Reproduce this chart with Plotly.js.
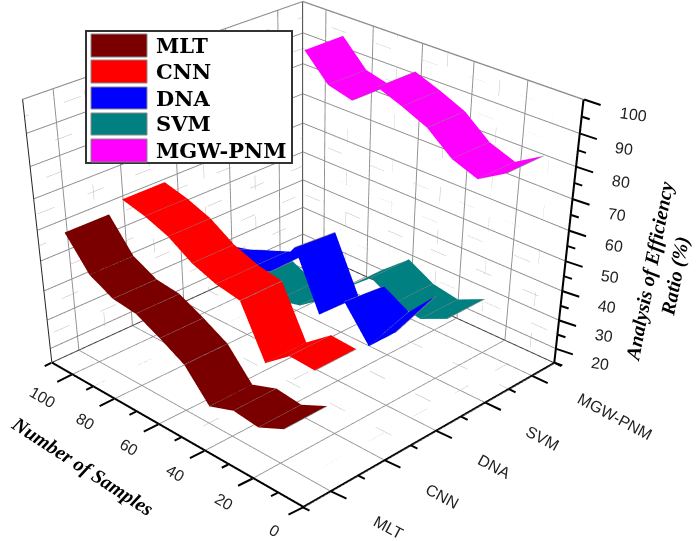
<!DOCTYPE html>
<html><head><meta charset="utf-8">
<script src="https://cdn.plot.ly/plotly-3.0.1.min.js"></script>
<style>html,body{margin:0;padding:0;width:697px;height:541px;overflow:hidden;background:#fff}
#wrap{position:absolute;left:0;top:0;width:697px;height:541px;overflow:hidden}
#plot{position:absolute;left:-397px;top:0;width:1400px;height:1400px}</style>
</head><body><div id="wrap"><div id="plot"></div></div>
<script>
const categories = ['MLT','CNN','DNA','SVM','MGW-PNM'];
const colors = ['#7a0000','#ff0000','#0000ff','#008080','#ff00ff'];
const samplesMLT = [100,90,80,70,60,50,40,30,20,10];
const samplesCNN = [100,90,80,70,60,50,40,30,20];
const samplesDNA = [100,90,80,70,60,50,40,30,20,10];
const samplesSVM = [100,90,80,70,60,50,40,30,20,10];
const samplesMGW = [90,80,70,60,50,40,30,20,10];
const ratioMLT = [62,52,48,47,43,38.5,29,32,31,35];
const ratioCNN = [65,63,60,55,52,50.5,34,40.5,40];
const ratioDNALeft  = [51,49.5,48,45,48,59.4,41.3,49.4,38.8,47.4];
const ratioDNARight = [37,37.5,41.6,44.8,48.4,58.3,40.7,48,43.4,52.6];
const ratioSVM = [24,26,22,24,30,38,45,40.5,39,43];
const ratioMGW = [95,87,85,92,89,85.5,79,76,81];
const xTicks = [0,20,40,60,80,100];
const xMinor = [10,30,50,70,90,110];
const yTicks = [1,2,3,4,5];
const yMinor = [0.5,1.5,2.5,3.5,4.5,5.5];
const zTicks = [20,30,40,50,60,70,80,90,100];
const zMinor = [15,25,35,45,55,65,75,85,95];

const xR=[110,0], yR=[0.5,5.5], zR=[15,100];
const halfW=0.38;
const traces=[];
const seriesX=[samplesMLT,samplesCNN,samplesDNA,samplesSVM,samplesMGW];
const seriesL=[ratioMLT,ratioCNN,ratioDNALeft,ratioSVM,ratioMGW];
const seriesR=[ratioMLT,ratioCNN,ratioDNARight,ratioSVM,ratioMGW];
categories.forEach((c,i)=>{
  const y0=i+1-halfW,y1=i+1+halfW;
  const X=seriesX[i].map(v=>[v,v]), Y=seriesX[i].map(()=>[y0,y1]), Z=seriesX[i].map((v,k)=>[seriesL[i][k],seriesR[i][k]]);
  traces.push({type:'surface',x:X,y:Y,z:Z,surfacecolor:Z.map(r=>r.map(()=>0)),cmin:0,cmax:1,
    colorscale:[[0,colors[i]],[1,colors[i]]],showscale:false,hoverinfo:'skip',
    lighting:{ambient:1,diffuse:0,specular:0,fresnel:0,roughness:1}});
  const lx=[],ly=[],lz=[];
  seriesX[i].forEach((v,k)=>{ if(k>0){lx.push(v,v,null);ly.push(y0,y1,null);lz.push(seriesL[i][k],seriesR[i][k],null);} });
  traces.push({type:'scatter3d',mode:'lines',x:lx,y:ly,z:lz,line:{color:'#8a8a8a',width:1.5},hoverinfo:'skip',showlegend:false});
});
function segs(list,color,width,dash){
  const x=[],y=[],z=[];
  list.forEach(s=>{x.push(s[0][0],s[1][0],null);y.push(s[0][1],s[1][1],null);z.push(s[0][2],s[1][2],null);});
  traces.push({type:'scatter3d',mode:'lines',x,y,z,line:{color,width,dash:dash||'solid'},hoverinfo:'skip',showlegend:false});
}
const xa=0,xb=110,[ya,yb]=yR,[za,zb]=zR;
const inset=0.01, yi=ya+inset, yj=yb-inset, ze=za+0.05, zt=zb-0.05, xe=xa+0.05, xf=xb-0.05;
const dots=[];
xMinor.slice(0,5).forEach(v=>{dots.push([[v,ya,za],[v,yb,za]]);dots.push([[v,yb,za],[v,yb,zb]]);});
yMinor.slice(1,5).forEach(v=>{dots.push([[xa,v,za],[xb,v,za]]);dots.push([[xb,v,za],[xb,v,zb]]);});
zMinor.slice(1).forEach(v=>{dots.push([[xb,ya,v],[xb,yb,v]]);dots.push([[xa,yb,v],[xb,yb,v]]);});
segs(dots,'#bdbdbd',1,'dot');
segs([[[xf,yi,zt],[xf,yj,zt]],[[xf,yj,zt],[xe,yj,zt]]],'#8c8c8c',1.5);
segs([[[xf,yj,ze],[xf,yj,zt]],[[xf,yi,ze],[xf,yj,ze]],[[xe,yj,ze],[xf,yj,ze]]],'#444',2);
segs([[[xf,yi,ze],[xf,yi,zt]]],'#222',2);
segs([[[xe,yi,ze],[xb,yi,ze]]],'#000',4);
segs([[[xe,yi,ze],[xe,yb,ze]]],'#000',4);
segs([[[xe,yj,ze],[xe,yj,zb]]],'#000',4);

const ann=[];
function tick(x,y,z,ax,ay){ann.push({x,y,z,text:' ',font:{size:1},showarrow:true,arrowhead:0,arrowwidth:2,arrowcolor:'#000',ax,ay});}
xTicks.forEach(v=>tick(v,ya,za,-16,8));
xMinor.forEach(v=>tick(v,ya,za,-8,4));
yTicks.forEach(v=>tick(xa,v,za,17,8));
yMinor.forEach(v=>tick(xa,v,za,8,4));
zTicks.forEach(v=>tick(xa,yb,v,18,6));
zMinor.forEach(v=>tick(xa,yb,v,9,3));
const labelFont={family:'Liberation Sans',size:16,color:'#222'};
xTicks.forEach(v=>ann.push({x:v,y:ya,z:za,text:String(v),showarrow:false,textangle:30,font:labelFont,xshift:-29,yshift:-23}));
categories.forEach((c,i)=>ann.push({x:xa,y:i+1,z:za,text:c,showarrow:false,textangle:28,font:labelFont,xshift:39+c.length*6.2,yshift:-(32+c.length*1.3)}));
zTicks.forEach(v=>ann.push({x:xa,y:yb,z:v,text:String(v),showarrow:false,textangle:8,font:labelFont,xshift:34+String(v).length*5,yshift:-15}));
ann.push({x:55,y:ya,z:za,text:'<b><i>Number of Samples</i></b>',showarrow:false,textangle:33,font:{family:'Liberation Serif',size:20,color:'#000'},xshift:-87,yshift:-36});
ann.push({x:xa,y:yb,z:58,text:'<b><i>Analysis of Efficiency<br>Ratio (%)</i></b>',showarrow:false,textangle:-79,font:{family:'Liberation Serif',size:20,color:'#000'},xshift:94,yshift:-37});

const W=1400,H=1400,OX=397,OY=0;
const px=v=>(v+OX)/W, py=v=>1-(v+OY)/H;
const shapes=[{type:'rect',xref:'paper',yref:'paper',x0:px(86),x1:px(292),y0:py(31),y1:py(163),fillcolor:'#fff',line:{color:'#333',width:2}}];
const legendTop=[34,60,87,113,139], legendBottom=[57,83,109,135,162];
const annotations=[];
categories.forEach((c,i)=>{
  shapes.push({type:'rect',xref:'paper',yref:'paper',x0:px(91),x1:px(147),y0:py(legendTop[i]),y1:py(legendBottom[i]),fillcolor:colors[i],line:{color:'#888',width:1}});
  annotations.push({xref:'paper',yref:'paper',x:px(154),y:py((legendTop[i]+legendBottom[i])/2),xanchor:'left',yanchor:'middle',text:'<b>'+c+'</b>',showarrow:false,font:{family:'DejaVu Serif',size:21,color:'#000'}});
});
const ax=(range,vals)=>({range,tickmode:'array',tickvals:vals,ticktext:vals.map(()=>''),showticklabels:false,ticks:'',title:{text:''},
  showgrid:true,gridcolor:'#8f8f8f',gridwidth:2,zeroline:false,showline:false,showspikes:false,showbackground:true,backgroundcolor:'#fff'});
const layout={width:W,height:H,margin:{l:0,r:0,t:0,b:0},paper_bgcolor:'#fff',showlegend:false,hovermode:false,shapes,annotations,
 scene:{domain:{x:[0,1],y:[0,1]},aspectmode:'manual',aspectratio:{x:1,y:1,z:0.75},
  camera:{eye:{x:2.963,y:-2.963,z:2.045},center:{x:0,y:0,z:-1.635},up:{x:0,y:0,z:1}},
  xaxis:ax(xR,xTicks),yaxis:ax(yR,yTicks),zaxis:ax(zR,zTicks),annotations:ann}};
Plotly.newPlot('plot',traces,layout,{displayModeBar:false});
</script></body></html>
